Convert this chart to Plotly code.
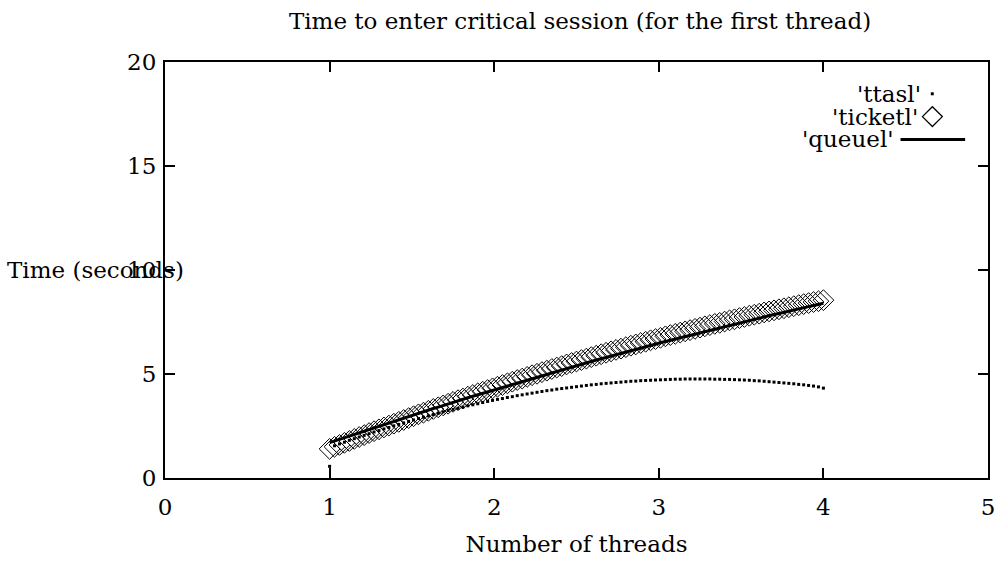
import plotly.graph_objects as go

x_threads = [round(1 + 0.03 * i, 2) for i in range(101)]

ttasl = [0.56, 1.55, 1.64, 1.72, 1.81, 1.89, 1.97, 2.05, 2.13, 2.21, 2.28,
         2.36, 2.43, 2.51, 2.58, 2.65, 2.72, 2.79, 2.86, 2.92, 2.99,
         3.05, 3.11, 3.18, 3.24, 3.30, 3.35, 3.41, 3.47, 3.52, 3.57,
         3.63, 3.68, 3.73, 3.78, 3.82, 3.87, 3.91, 3.96, 4.00, 4.04,
         4.08, 4.12, 4.16, 4.20, 4.23, 4.27, 4.30, 4.33, 4.36, 4.39,
         4.42, 4.45, 4.48, 4.50, 4.53, 4.55, 4.57, 4.59, 4.61, 4.63,
         4.65, 4.66, 4.68, 4.69, 4.70, 4.71, 4.72, 4.73, 4.74, 4.75,
         4.75, 4.76, 4.76, 4.76, 4.76, 4.76, 4.76, 4.75, 4.75, 4.74,
         4.74, 4.73, 4.72, 4.71, 4.70, 4.68, 4.67, 4.65, 4.63, 4.61,
         4.59, 4.57, 4.55, 4.53, 4.50, 4.48, 4.45, 4.42, 4.38, 4.32]

ticketl = [1.40, 1.50, 1.59, 1.69, 1.78, 1.88, 1.97, 2.06, 2.16, 2.25, 2.34,
           2.43, 2.52, 2.61, 2.70, 2.79, 2.88, 2.97, 3.06, 3.14, 3.23,
           3.32, 3.40, 3.49, 3.57, 3.66, 3.74, 3.82, 3.91, 3.99, 4.07,
           4.15, 4.23, 4.31, 4.39, 4.47, 4.55, 4.63, 4.71, 4.78, 4.86,
           4.94, 5.01, 5.09, 5.16, 5.24, 5.31, 5.38, 5.46, 5.53, 5.60,
           5.67, 5.74, 5.81, 5.88, 5.95, 6.02, 6.09, 6.16, 6.22, 6.29,
           6.36, 6.42, 6.49, 6.55, 6.62, 6.68, 6.74, 6.81, 6.87, 6.93,
           6.99, 7.05, 7.11, 7.17, 7.23, 7.29, 7.35, 7.41, 7.46, 7.52,
           7.58, 7.63, 7.69, 7.74, 7.80, 7.85, 7.90, 7.96, 8.01, 8.06,
           8.11, 8.16, 8.21, 8.26, 8.31, 8.36, 8.41, 8.46, 8.50, 8.55]

queuel = [1.70, 1.78, 1.86, 1.94, 2.02, 2.10, 2.18, 2.26, 2.34, 2.42, 2.50,
          2.57, 2.65, 2.73, 2.81, 2.88, 2.96, 3.04, 3.11, 3.19, 3.26,
          3.34, 3.41, 3.49, 3.56, 3.64, 3.71, 3.79, 3.86, 3.93, 4.00,
          4.08, 4.15, 4.22, 4.29, 4.36, 4.44, 4.51, 4.58, 4.65, 4.72,
          4.79, 4.86, 4.92, 4.99, 5.06, 5.13, 5.20, 5.27, 5.33, 5.40,
          5.47, 5.53, 5.60, 5.67, 5.73, 5.80, 5.86, 5.93, 5.99, 6.06,
          6.12, 6.18, 6.25, 6.31, 6.37, 6.44, 6.50, 6.56, 6.62, 6.68,
          6.75, 6.81, 6.87, 6.93, 6.99, 7.05, 7.11, 7.17, 7.23, 7.28,
          7.34, 7.40, 7.46, 7.52, 7.57, 7.63, 7.69, 7.74, 7.80, 7.86,
          7.91, 7.97, 8.02, 8.08, 8.13, 8.19, 8.24, 8.29, 8.35, 8.40]

series_names = ["'ttasl'", "'ticketl'", "'queuel'"]
x_ticks = [0, 1, 2, 3, 4, 5]
y_ticks = [0, 5, 10, 15, 20]

FONT = "DejaVu Serif"
FS = 23

fig = go.Figure()
fig.add_trace(go.Scatter(x=x_threads, y=ttasl, mode="markers", name=series_names[0],
                         marker=dict(symbol="square", size=3, color="black", line=dict(width=0))))
fig.add_trace(go.Scatter(x=x_threads, y=ticketl, mode="markers", name=series_names[1],
                         marker=dict(symbol="diamond-open", size=16, color="black",
                                     line=dict(width=1, color="black"))))
fig.add_trace(go.Scatter(x=x_threads, y=queuel, mode="lines", name=series_names[2],
                         line=dict(color="black", width=3)))

axis_common = dict(showline=True, linecolor="black", linewidth=2, mirror="ticks",
                   ticks="inside", ticklen=10, tickwidth=2, tickcolor="black",
                   showgrid=False, zeroline=False,
                   tickfont=dict(family=FONT, size=FS, color="black"))

fig.update_layout(
    width=1007, height=565,
    margin=dict(l=165, r=14, t=62, b=84),
    paper_bgcolor="white", plot_bgcolor="white",
    showlegend=False,
    title=dict(text="Time to enter critical session (for the first thread)",
               x=0.576, xanchor="center", y=0.963, yanchor="middle",
               font=dict(family=FONT, size=FS, color="black")),
    xaxis=dict(range=[0, 5], tickvals=x_ticks, ticklabelstandoff=7, **axis_common),
    yaxis=dict(range=[0, 20], tickvals=y_ticks, ticklabelstandoff=2, **axis_common),
)
fig.update_xaxes(title=dict(text="Number of threads", font=dict(family=FONT, size=FS, color="black"),
                            standoff=17))

# Y axis label (gnuplot style, horizontal, overlapping the tick label as in the original)
fig.add_annotation(text="Time (seconds)", xref="paper", yref="paper",
                   x=-0.0845, y=0.501, xanchor="center", yanchor="middle", showarrow=False,
                   font=dict(family=FONT, size=FS, color="black"))

# Legend (gnuplot style: text then sample on the right)
leg_y = [0.9236, 0.8687, 0.8138]
leg_x_right = [0.9195, 0.9165, 0.8868]
for name, yy, xr in zip(series_names, leg_y, leg_x_right):
    fig.add_annotation(text=name, xref="paper", yref="paper", x=xr, y=yy,
                       xanchor="right", yanchor="middle", showarrow=False, borderpad=0,
                       font=dict(family=FONT, size=FS, color="black"))
# sample for ttasl: small square dot
fig.add_shape(type="rect", xref="paper", yref="paper",
              x0=0.9305, x1=0.9341, y0=leg_y[0] - 0.0036, y1=leg_y[0] + 0.0036,
              fillcolor="black", line=dict(width=0))
# sample for ticketl: open diamond
cx, cy, dx, dy = 0.9324, leg_y[1], 0.0121, 0.0239
fig.add_shape(type="path", xref="paper", yref="paper",
              path=f"M {cx-dx},{cy} L {cx},{cy+dy} L {cx+dx},{cy} L {cx},{cy-dy} Z",
              line=dict(color="black", width=1.3))
# sample for queuel: line
fig.add_shape(type="line", xref="paper", yref="paper",
              x0=0.8937, x1=0.9722, y0=leg_y[2], y1=leg_y[2],
              line=dict(color="black", width=3))

fig.write_html("out.html")
